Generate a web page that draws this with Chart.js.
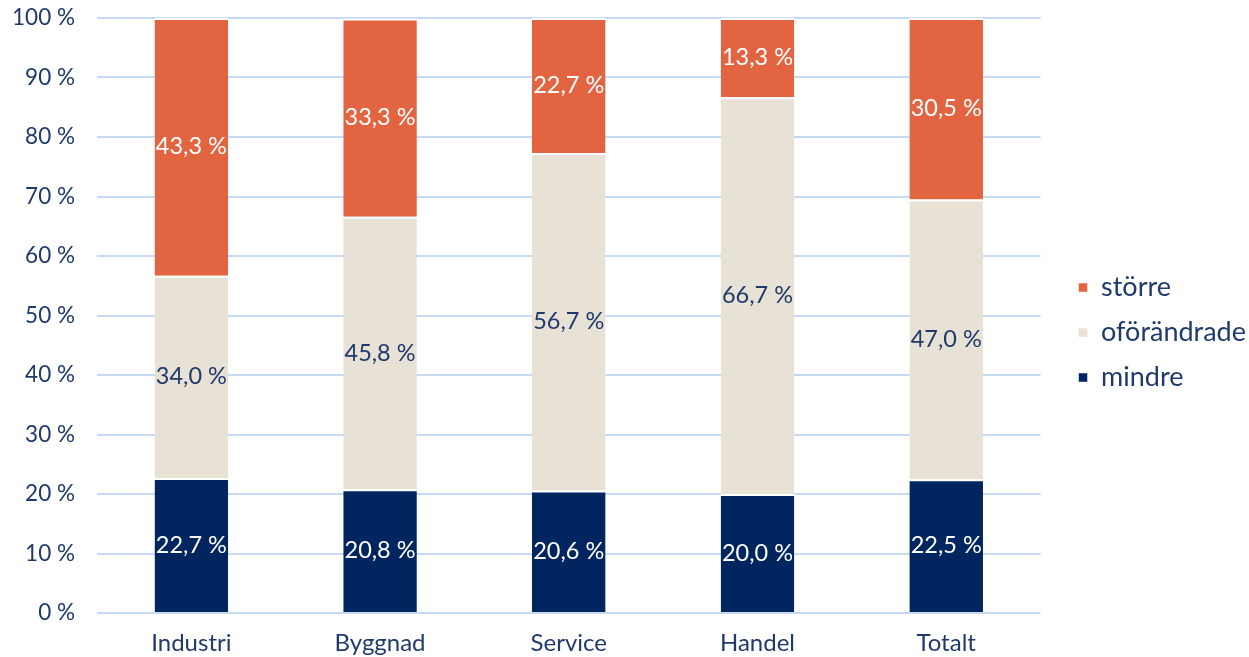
<!DOCTYPE html>
<html>
<head>
    <title>Förändring per sektor</title>
    <script src="https://cdn.jsdelivr.net/npm/chart.js"></script>
    <style>
        html, body { margin: 0; padding: 0; background: #fff; }
        #wrap { width: 1249px; height: 657px; }
    </style>
</head>
<body>
<div id="wrap"><canvas id="chart"></canvas></div>
<script>
    var categories = ['Industri', 'Byggnad', 'Service', 'Handel', 'Totalt'];
    var mindre = [22.7, 20.8, 20.6, 20.0, 22.5];
    var oforandrade = [34.0, 45.8, 56.7, 66.7, 47.0];
    var storre = [43.3, 33.3, 22.7, 13.3, 30.5];
    var yTicks = [0, 10, 20, 30, 40, 50, 60, 70, 80, 90, 100];

    var navy = '#00255f';
    var beige = '#e8e2d6';
    var orange = '#e36440';
    var textColor = '#1f3a6b';
    var fontFam = 'Lato, "Noto Sans", sans-serif';
    var legendExtra = 13;   // extra width for the legend box
    var legendDx = 20;      // push legend items right
    var legendDy = -5;      // and a bit up

    function fmt(v) {
        return v.toFixed(1).replace('.', ',') + ' %';
    }

    // draw value labels in the middle of each segment
    var valueLabels = {
        id: 'valueLabels',
        afterDatasetsDraw: function(chart) {
            var ctx = chart.ctx;
            ctx.save();
            ctx.font = '23.5px ' + fontFam;
            ctx.textAlign = 'center';
            ctx.textBaseline = 'middle';
            chart.data.datasets.forEach(function(ds, i) {
                var meta = chart.getDatasetMeta(i);
                meta.data.forEach(function(bar, j) {
                    var y = (bar.y + bar.base) / 2;
                    ctx.fillStyle = ds.labelColor;
                    ctx.fillText(fmt(ds.data[j]), bar.x, y);
                });
            });
            ctx.restore();
        }
    };

    // widen the legend box and shift its items, so the gap to the plot is like the original
    var legendGap = {
        id: 'legendGap',
        afterInit: function(chart) {
            var lg = chart.legend;
            if (!lg) return;
            var fit = lg.fit, draw = lg.draw;
            lg.fit = function() {
                fit.call(this);
                this.width += legendExtra;
            };
            lg.draw = function() {
                var c = this.ctx;
                c.save();
                c.translate(legendDx, legendDy);
                draw.apply(this, arguments);
                c.restore();
            };
        }
    };

    var ctx = document.getElementById('chart').getContext('2d');
    var chart = new Chart(ctx, {
        type: 'bar',
        data: {
            labels: categories,
            datasets: [{
                label: 'mindre',
                data: mindre,
                backgroundColor: navy,
                labelColor: '#ffffff'
            },
            {
                label: 'oförändrade',
                data: oforandrade,
                backgroundColor: beige,
                labelColor: textColor
            },
            {
                label: 'större',
                data: storre,
                backgroundColor: orange,
                labelColor: '#ffffff'
            }]
        },
        options: {
            responsive: true,
            maintainAspectRatio: false,
            animation: false,
            layout: { padding: { top: 18, right: 0, bottom: 0, left: 0 } },
            datasets: {
                bar: {
                    categoryPercentage: 1,
                    barPercentage: 0.39,
                    borderColor: '#ffffff',
                    borderWidth: { top: 2, bottom: 0, left: 0, right: 0 },
                    borderSkipped: false
                }
            },
            scales: {
                x: {
                    stacked: true,
                    grid: { display: false },
                    border: { display: false },
                    afterFit: function(axis) {
                        axis.height = 44;
                        axis.paddingLeft = 0;
                        axis.paddingRight = 0;
                    },
                    ticks: {
                        color: textColor,
                        font: { family: fontFam, size: 24 },
                        padding: 8
                    }
                },
                y: {
                    stacked: true,
                    min: 0,
                    max: 100,
                    afterBuildTicks: function(axis) {
                        axis.ticks = yTicks.map(function(v) { return { value: v }; });
                    },
                    afterFit: function(axis) {
                        axis.width = 97;
                        axis.paddingTop = 0;
                        axis.paddingBottom = 0;
                    },
                    grid: { color: '#c6daf4', lineWidth: 2, drawTicks: false },
                    border: { display: false },
                    ticks: {
                        color: textColor,
                        font: { family: fontFam, size: 22.5 },
                        padding: 22,
                        callback: function(v) { return v + ' %'; }
                    }
                }
            },
            plugins: {
                legend: {
                    position: 'right',
                    reverse: true,
                    labels: {
                        color: textColor,
                        font: { family: fontFam, size: 27 },
                        boxWidth: 9,
                        boxHeight: 9,
                        padding: 18
                    }
                },
                tooltip: { enabled: false }
            }
        },
        plugins: [valueLabels, legendGap]
    });
</script>
</body>
</html>
